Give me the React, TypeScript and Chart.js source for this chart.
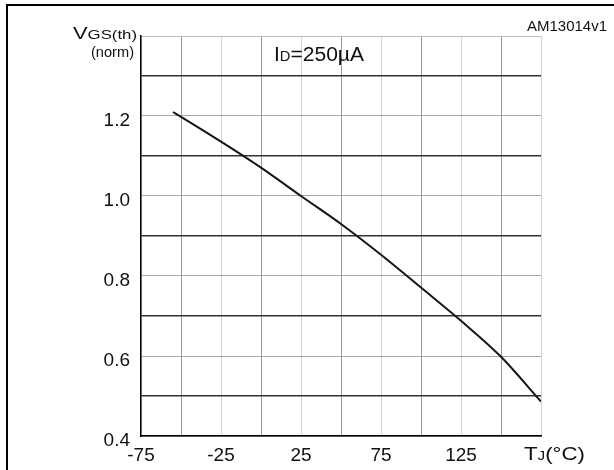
import React, { useEffect, useRef } from "react";
import { Chart, registerables } from "chart.js";

Chart.register(...registerables);

// Junction temperature (°C)
const temps = [-55, -50, -25, 0, 25, 50, 75, 100, 125, 150, 175];
// Normalized gate threshold voltage
const vgsNorm = [1.21, 1.198, 1.136, 1.071, 1.0, 0.93, 0.853, 0.771, 0.688, 0.598, 0.486];

const xTickLabels = [-75, -25, 25, 75, 125];
const yTickLabels = [0.4, 0.6, 0.8, 1.0, 1.2];

const FONT = "'Liberation Sans', Arial, Helvetica, sans-serif";

type Seg = { t: string; size: number };

function drawRich(ctx: CanvasRenderingContext2D, segs: Seg[], x: number, baseline: number, targetW: number) {
  let natural = 0;
  for (const s of segs) {
    ctx.font = `${s.size}px ${FONT}`;
    natural += ctx.measureText(s.t).width;
  }
  const sx = targetW / natural;
  ctx.save();
  ctx.translate(x, baseline);
  ctx.scale(sx, 1);
  ctx.textBaseline = "alphabetic";
  ctx.textAlign = "left";
  ctx.fillStyle = "#111";
  let cx = 0;
  for (const s of segs) {
    ctx.font = `${s.size}px ${FONT}`;
    ctx.fillText(s.t, cx, 0);
    cx += ctx.measureText(s.t).width;
  }
  ctx.restore();
}

const labelsPlugin = {
  id: "labelsPlugin",
  afterDraw(chart: any) {
    const ctx: CanvasRenderingContext2D = chart.ctx;
    ctx.save();
    // frame
    ctx.fillStyle = "#000";
    ctx.fillRect(6, 4, 2, 470);
    ctx.fillRect(6, 4, 620, 2);
    drawRich(ctx, [{ t: "AM13014v1", size: 14 }], 527, 31, 80);
    drawRich(ctx, [{ t: "V", size: 17 }, { t: "GS(th)", size: 13 }], 73, 38.5, 64);
    drawRich(ctx, [{ t: "(norm)", size: 14 }], 91, 57, 43);
    drawRich(ctx, [{ t: "I", size: 20 }, { t: "D", size: 14 }, { t: "=250µA", size: 20 }], 274, 61, 90);
    drawRich(ctx, [{ t: "T", size: 19 }, { t: "J", size: 13 }, { t: "(°C)", size: 19 }], 524, 460, 61);
    ctx.restore();
  },
};

export default function App() {
  const ref = useRef<HTMLCanvasElement>(null);
  useEffect(() => {
    document.body.style.margin = "0";
    const canvas = ref.current!;
    const chart = new Chart(canvas, {
      type: "line",
      data: {
        datasets: [
          {
            data: temps.map((t, i) => ({ x: t, y: vgsNorm[i] })),
            borderColor: "#151515",
            borderWidth: 2,
            pointRadius: 0,
            cubicInterpolationMode: "monotone",
            fill: false,
          },
        ],
      },
      options: {
        animation: false,
        responsive: false,
        devicePixelRatio: 1,
        layout: { padding: { top: 36, right: 73, left: 0, bottom: 0 } },
        plugins: { legend: { display: false }, tooltip: { enabled: false } },
        scales: {
          x: {
            type: "linear",
            min: -75,
            max: 175,
            afterFit: (s: any) => {
              s.height = 34;
            },
            afterBuildTicks: (s: any) => {
              const v: any[] = [];
              for (let t = -75; t <= 175; t += 25) v.push({ value: t });
              s.ticks = v;
            },
            ticks: {
              autoSkip: false,
              maxRotation: 0,
              padding: 8,
              color: "#111",
              font: { family: FONT, size: 19 },
              callback: (val: any) => (xTickLabels.includes(Number(val)) ? String(val) : ""),
            },
            grid: {
              drawTicks: false,
              color: (c: any) => {
                const v = Math.round(c.tick.value);
                return v % 50 === 0 ? "#9a9a9a" : "#d2d2d2";
              },
              lineWidth: 1,
            },
            border: { color: "#000", width: 1.5 },
          },
          y: {
            type: "linear",
            min: 0.4,
            max: 1.4,
            afterFit: (s: any) => {
              s.width = 141;
            },
            afterBuildTicks: (s: any) => {
              const v: any[] = [];
              for (let k = 4; k <= 14; k++) v.push({ value: k / 10 });
              s.ticks = v;
            },
            ticks: {
              autoSkip: false,
              padding: 11,
              labelOffset: 5,
              color: "#111",
              font: { family: FONT, size: 19 },
              callback: (val: any) => {
                const n = Number(val);
                return yTickLabels.some((y) => Math.abs(y - n) < 1e-6) ? n.toFixed(1) : "";
              },
            },
            grid: {
              drawTicks: false,
              color: (c: any) => {
                const k = Math.round(c.tick.value * 10);
                if (k === 14) return "#bdbdbd";
                return k % 2 === 1 ? "#333" : "#a8a8a8";
              },
              lineWidth: (c: any) => {
                const k = Math.round(c.tick.value * 10);
                return k % 2 === 1 ? 1.5 : 1;
              },
            },
            border: { color: "#000", width: 1.5 },
          },
        },
      },
      plugins: [labelsPlugin],
    });
    return () => chart.destroy();
  }, []);
  return (
    <div style={{ position: "fixed", left: 0, top: 0, width: 614, height: 470, background: "#fff" }}>
      <canvas ref={ref} width={614} height={470} style={{ width: 614, height: 470, display: "block" }} />
    </div>
  );
}
